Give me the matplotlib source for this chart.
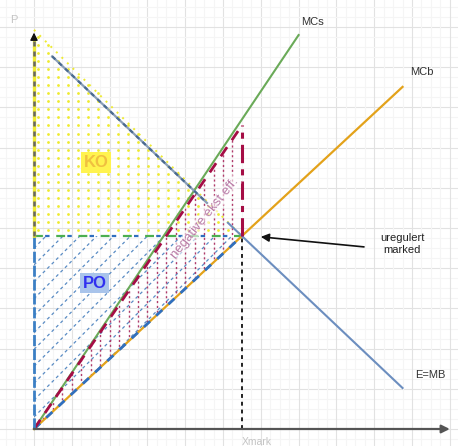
import numpy as np
import matplotlib
matplotlib.use("Agg")
import matplotlib.pyplot as plt
from matplotlib.patches import Polygon
from matplotlib.collections import LineCollection
from matplotlib.path import Path

plt.rcParams['font.family'] = ['Liberation Sans', 'DejaVu Sans']

# --- market data (quantity, price units) ---
q_market = 5.5
p_market = 4.8
p_axis_top = 9.93
q_axis_end = 11.0

mcs_q = [0.0, 7.0]
mcs_p = [0.0, 9.8]

mcb_q = [0.0, 9.75]
mcb_p = [0.0, 8.51]

mb_dashed_q = [0.48, 4.58]
mb_dashed_p = [9.27, 5.62]
mb_solid_q = [5.13, 9.75]
mb_solid_p = [5.13, 1.02]

social_q = [0.0, 5.5]
social_p = [0.0, 7.55]

labels = {"MCs": (7.06, 10.12), "MCb": (9.95, 8.88), "E=MB": (10.08, 1.34)}

# --- figure: one unit = one grid cell ---
W, H = 458, 446
fig = plt.figure(figsize=(W / 100, H / 100), dpi=100)
ax = fig.add_axes([0, 0, 1, 1])
ux, uy = 37.8, 40.2
ax.set_xlim(-34 / ux, (W - 34) / ux)
ax.set_ylim((429 - H) / uy, 429 / uy)
ax.axis('off')

# background grid
for k in np.arange(-1, 12.01, 0.25):
    major = abs(k - round(k)) < 1e-6
    ax.axvline(k, color='#e2e2e2' if major else '#f5f5f5', lw=0.8, zorder=0)
    ax.axhline(k, color='#e2e2e2' if major else '#f5f5f5', lw=0.8, zorder=0)

# consumer surplus (KO): yellow dotted triangle
ko_tri = [(0, p_axis_top), (0, p_market), (q_market, p_market)]
ko_path = Path(ko_tri + [ko_tri[0]])
gx, gy = np.meshgrid(np.arange(0.1, 6, 0.265), np.arange(p_market + 0.15, 10, 0.2))
pts = np.column_stack([gx.ravel(), gy.ravel()])
inside = pts[ko_path.contains_points(pts)]
ax.scatter(inside[:, 0], inside[:, 1], s=4, color='#eeea30', lw=0, zorder=1)
ax.plot([0, q_market], [p_axis_top, p_market], color='#eeea30', lw=1.4,
        ls=(0, (1, 3)), zorder=1)

# producer surplus (PO): blue dashed 45-degree hatching
po_patch = Polygon([(0, p_market), (0, 0), (q_market, p_market)],
                   closed=True, transform=ax.transData)
slope = ux / uy
segs = []
for c in np.arange(-6, p_market + 0.1, 0.42):
    segs.append([(0, c), (7, c + 7 * slope)])
lc = LineCollection(segs, colors='#5a8cc4', linewidths=0.9,
                    linestyles=[(0, (2.5, 2.5))], zorder=2)
lc.set_clip_path(po_patch)
ax.add_collection(lc)

# negative externality: crimson vertical dotted hatching
ext_patch = Polygon([(0, 0), (social_q[1], social_p[1]), (q_market, p_market)],
                    closed=True, transform=ax.transData)
segs = [[(x, 0), (x, 9)] for x in np.arange(0.25, q_market, 0.25)]
lc2 = LineCollection(segs, colors='#b03a6a', linewidths=1.0,
                     linestyles=[(0, (1.5, 2))], zorder=2)
lc2.set_clip_path(ext_patch)
ax.add_collection(lc2)

# price level (dash-dot, two tone)
ax.plot([0, q_market], [p_market, p_market], color='#4caf50', lw=1.6,
        ls=(0, (4, 6)), zorder=3)
ax.plot([0, q_market], [p_market, p_market], color='#2f6fbf', lw=1.6,
        ls=(5, (2, 8)), zorder=3)

# curves
ax.plot(mcs_q, mcs_p, color='#6aaa58', lw=1.5, zorder=4)
ax.plot(mcb_q, mcb_p, color='#e3a21a', lw=1.6, zorder=4)
ax.plot([0, q_market], [0, p_market], color='#2f6fbf', lw=2.0,
        ls=(0, (3, 3)), zorder=5)
ax.plot(mb_dashed_q, mb_dashed_p, color='#8a9fb8', lw=1.6, zorder=4)
ax.plot(mb_dashed_q, mb_dashed_p, color='#4a6a90', lw=1.6,
        ls=(0, (2, 2)), zorder=4)
ax.plot(mb_solid_q, mb_solid_p, color='#6c8ebf', lw=1.5, zorder=4)
ax.plot(social_q, social_p, color='#a50d45', lw=2.0, ls=(0, (4, 3)), zorder=5)
ax.plot([q_market, q_market], [p_market, social_p[1]], color='#a50d45', lw=2.2,
        ls=(0, (6, 2, 2, 2)), zorder=5)
ax.plot([q_market, q_market], [0, p_market], color='#222222', lw=1.4,
        ls=(0, (2, 2)), zorder=5)

# axes
ax.plot([0, 0], [p_market, p_axis_top - 0.2], color='#eeea30', lw=2.4, zorder=5)
ax.plot([0, 0], [p_market, p_axis_top - 0.2], color='#666666', lw=1.8,
        ls=(0, (2, 2)), zorder=6)
ax.plot([0, 0], [0, p_market], color='#3b7fc4', lw=2.0, ls=(0, (4, 1)), zorder=6)
ax.annotate('', xy=(0, p_axis_top), xytext=(0, p_axis_top - 0.3),
            arrowprops=dict(arrowstyle='-|>', color='#111111', lw=1,
                            mutation_scale=11), zorder=7)
ax.annotate('', xy=(q_axis_end, 0), xytext=(0, 0),
            arrowprops=dict(arrowstyle='-|>', color='#555555', lw=1.6,
                            mutation_scale=12, shrinkA=0, shrinkB=0), zorder=7)

# text
ax.text(-0.53, 10.17, 'P', color='#c4c4c4', fontsize=8, ha='center', va='center')
ax.text(5.9, -0.2, 'Xmark', color='#c4c4c4', fontsize=7.5, ha='center', va='top')
for name, (x, y) in labels.items():
    ax.text(x, y, name, color='#333333', fontsize=8, ha='left', va='center')
ax.text(9.74, 4.6, 'uregulert\nmarked', color='#222222', fontsize=8,
        ha='center', va='center', linespacing=1.35)
ax.annotate('', xy=(6.0, 4.78), xytext=(8.73, 4.53),
            arrowprops=dict(arrowstyle='-|>', color='#111111', lw=1.2,
                            mutation_scale=12, shrinkA=0, shrinkB=0))
ax.text(1.64, 6.64, 'KO', color='#f0c040', fontsize=12, fontweight='bold',
        ha='center', va='center',
        bbox=dict(boxstyle='square,pad=0.18', fc='#fff34f', ec='none'), zorder=8)
ax.text(1.61, 3.63, 'PO', color='#3030f0', fontsize=12, fontweight='bold',
        ha='center', va='center',
        bbox=dict(boxstyle='square,pad=0.15', fc='#a9c4eb', ec='none'), zorder=8)
ax.text(4.52, 5.25, 'negative ekst eff.', color='#b87aa6', fontsize=9.5,
        rotation=51, rotation_mode='anchor', ha='center', va='center', zorder=8,
        bbox=dict(boxstyle='square,pad=0.05', fc='white', ec='none', alpha=0.6))

fig.savefig('out.png', dpi=100)
